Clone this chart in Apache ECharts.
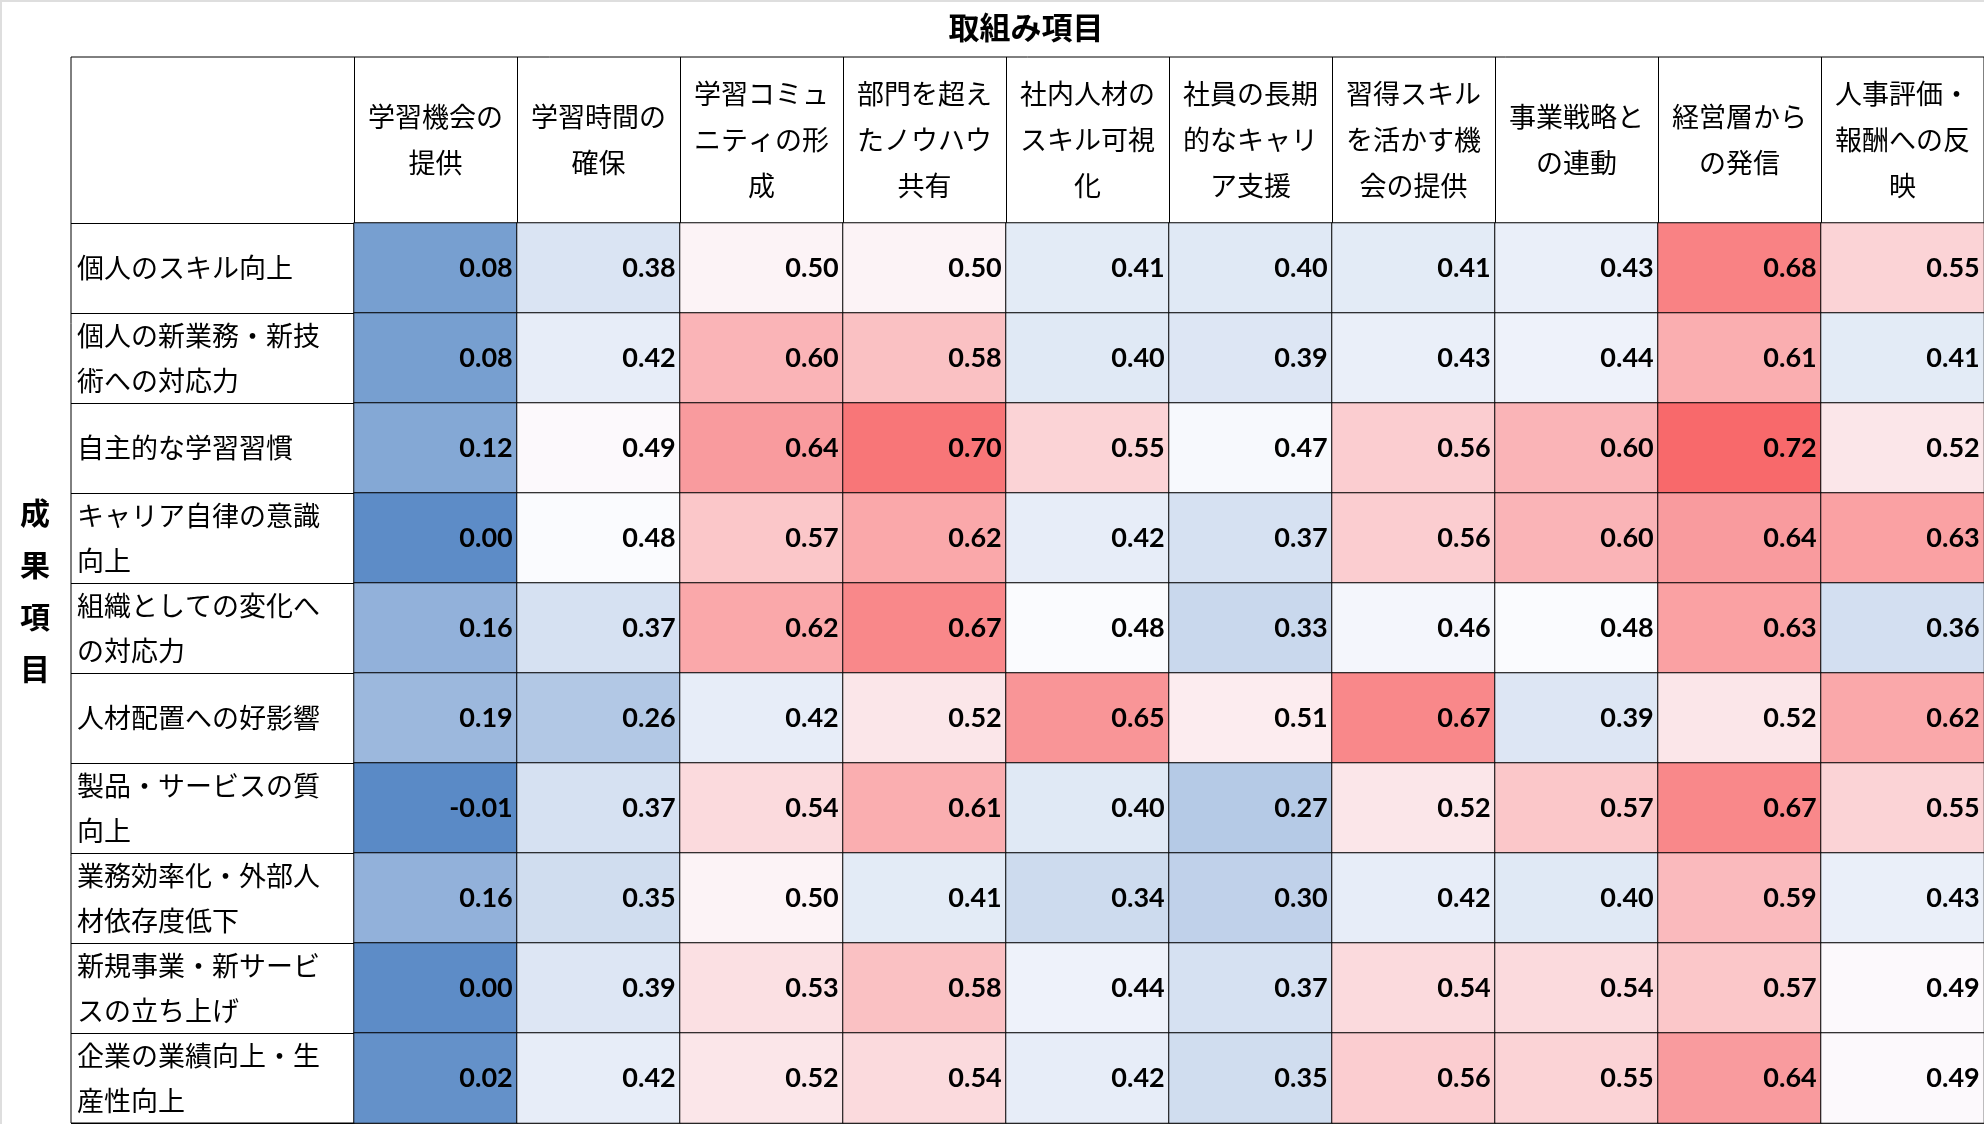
<!DOCTYPE html>
<html>
<head>
<meta charset="utf-8">
<script src="https://cdn.jsdelivr.net/npm/echarts@6/dist/echarts.min.js"></script>
<style>
html,body{margin:0;padding:0;background:#fff;}
#c{width:1984px;height:1124px;position:absolute;left:0;top:0;}
#edge{position:absolute;left:0;top:0;width:1984px;height:1124px;box-sizing:border-box;border-top:2px solid #dedede;border-left:2px solid #dedede;pointer-events:none;}
</style>
</head>
<body>
<div id="c"></div>
<div id="edge"></div>
<script>
// ---- data ----
const title = '取組み項目';
const sideTitle = '成果項目';
const columns = ['学習機会の提供', '学習時間の確保', '学習コミュニティの形成', '部門を超えたノウハウ共有', '社内人材のスキル可視化',
  '社員の長期的なキャリア支援', '習得スキルを活かす機会の提供', '事業戦略との連動', '経営層からの発信', '人事評価・報酬への反映'];
const rows = ['個人のスキル向上', '個人の新業務・新技術への対応力', '自主的な学習習慣', 'キャリア自律の意識向上', '組織としての変化への対応力',
  '人材配置への好影響', '製品・サービスの質向上', '業務効率化・外部人材依存度低下', '新規事業・新サービスの立ち上げ', '企業の業績向上・生産性向上'];
const rowSkill      = [0.08, 0.38, 0.50, 0.50, 0.41, 0.40, 0.41, 0.43, 0.68, 0.55];
const rowNewTech    = [0.08, 0.42, 0.60, 0.58, 0.40, 0.39, 0.43, 0.44, 0.61, 0.41];
const rowHabit      = [0.12, 0.49, 0.64, 0.70, 0.55, 0.47, 0.56, 0.60, 0.72, 0.52];
const rowCareer     = [0.00, 0.48, 0.57, 0.62, 0.42, 0.37, 0.56, 0.60, 0.64, 0.63];
const rowChange     = [0.16, 0.37, 0.62, 0.67, 0.48, 0.33, 0.46, 0.48, 0.63, 0.36];
const rowPlacement  = [0.19, 0.26, 0.42, 0.52, 0.65, 0.51, 0.67, 0.39, 0.52, 0.62];
const rowQuality    = [-0.01, 0.37, 0.54, 0.61, 0.40, 0.27, 0.52, 0.57, 0.67, 0.55];
const rowEfficiency = [0.16, 0.35, 0.50, 0.41, 0.34, 0.30, 0.42, 0.40, 0.59, 0.43];
const rowNewBiz     = [0.00, 0.39, 0.53, 0.58, 0.44, 0.37, 0.54, 0.54, 0.57, 0.49];
const rowPerform    = [0.02, 0.42, 0.52, 0.54, 0.42, 0.35, 0.56, 0.55, 0.64, 0.49];
const rowValues = [rowSkill, rowNewTech, rowHabit, rowCareer, rowChange, rowPlacement, rowQuality, rowEfficiency, rowNewBiz, rowPerform];

// ---- build ----
const heatData = [];
rowValues.forEach((vals, i) => vals.forEach((v, j) => heatData.push([j, i, v])));

const sorted = heatData.map(d => d[2]).sort((a, b) => a - b);
const vMin = sorted[0], vMax = sorted[sorted.length - 1];
const vMid = (sorted[49] + sorted[50]) / 2;
const cBlue = [0x5A, 0x8A, 0xC6], cWhite = [0xFC, 0xFC, 0xFF], cRed = [0xF8, 0x69, 0x6B];
function lerp(a, b, t) { return a.map((x, k) => Math.round(x + (b[k] - x) * t)); }
function scaleColor(v) {
  let c;
  if (v <= vMid) c = lerp(cBlue, cWhite, (v - vMin) / (vMid - vMin));
  else c = lerp(cWhite, cRed, (v - vMid) / (vMax - vMid));
  return 'rgb(' + c.join(',') + ')';
}
const N = 401;
const stops = [];
for (let i = 0; i < N; i++) stops.push(scaleColor(vMin + (vMax - vMin) * i / (N - 1)));

function wrap(s, n) {
  const out = [];
  for (let i = 0; i < s.length; i += n) out.push(s.slice(i, i + n));
  return out.join('\n');
}

const jp = '"Noto Sans CJK JP", "Noto Sans CJK SC", sans-serif';
const num = 'Lato, "Open Sans", sans-serif';
const black = '#000';

const chart = echarts.init(document.getElementById('c'), null, {renderer: 'canvas'});
chart.setOption({
  animation: false,
  backgroundColor: '#fff',
  grid: [
    {left: 354, top: 223, right: 0, bottom: 1, outerBoundsMode: 'none', containLabel: false},
    {left: 71, top: 57, right: 0, bottom: 1, outerBoundsMode: 'none', containLabel: false,
     show: true, borderColor: black, borderWidth: 1, backgroundColor: 'transparent'}
  ],
  xAxis: [
    {
      type: 'category', gridIndex: 0, position: 'top', data: columns,
      axisLine: {show: true, lineStyle: {color: black, width: 1}},
      axisTick: {show: true, interval: 0, length: 166, lineStyle: {color: black, width: 1}},
      axisLabel: {interval: 0, margin: 83, verticalAlign: 'middle', align: 'center',
        formatter: v => wrap(v, 5), fontSize: 27, lineHeight: 46, color: black, fontFamily: jp},
      splitLine: {show: false}
    },
    {type: 'value', gridIndex: 1, show: false}
  ],
  yAxis: [
    {
      type: 'category', gridIndex: 0, inverse: true, data: rows,
      axisLine: {show: true, lineStyle: {color: black, width: 1}},
      axisTick: {show: true, interval: 0, length: 283, lineStyle: {color: black, width: 1}},
      axisLabel: {interval: 0, margin: 277, align: 'left', verticalAlign: 'middle',
        formatter: v => wrap(v, 9), fontSize: 27, lineHeight: 45, color: black, fontFamily: jp},
      splitLine: {show: false}
    },
    {type: 'value', gridIndex: 1, show: false}
  ],
  visualMap: {
    show: false, type: 'continuous', min: vMin, max: vMax, dimension: 2, seriesIndex: 0,
    inRange: {color: stops}
  },
  series: [{
    type: 'heatmap', xAxisIndex: 0, yAxisIndex: 0, data: heatData,
    itemStyle: {borderColor: black, borderWidth: 1},
    label: {show: true, position: 'insideRight', distance: 5,
      formatter: p => p.value[2].toFixed(2),
      color: black, fontWeight: 'bold', fontSize: 27, fontFamily: num},
    emphasis: {disabled: true}
  }],
  graphic: [
    {type: 'text', x: 1026, y: 27, silent: true,
     style: {text: title, fill: black, fontSize: 31, fontWeight: 'bold', fontFamily: jp,
             align: 'center', verticalAlign: 'middle', textAlign: 'center', textVerticalAlign: 'middle'}},
    {type: 'text', x: 35, y: 591, silent: true,
     style: {text: sideTitle.split('').join('\n'), fill: black, fontSize: 30, fontWeight: 'bold', fontFamily: jp,
             lineHeight: 52, align: 'center', verticalAlign: 'middle', textAlign: 'center', textVerticalAlign: 'middle'}}
  ]
});
</script>
</body>
</html>
